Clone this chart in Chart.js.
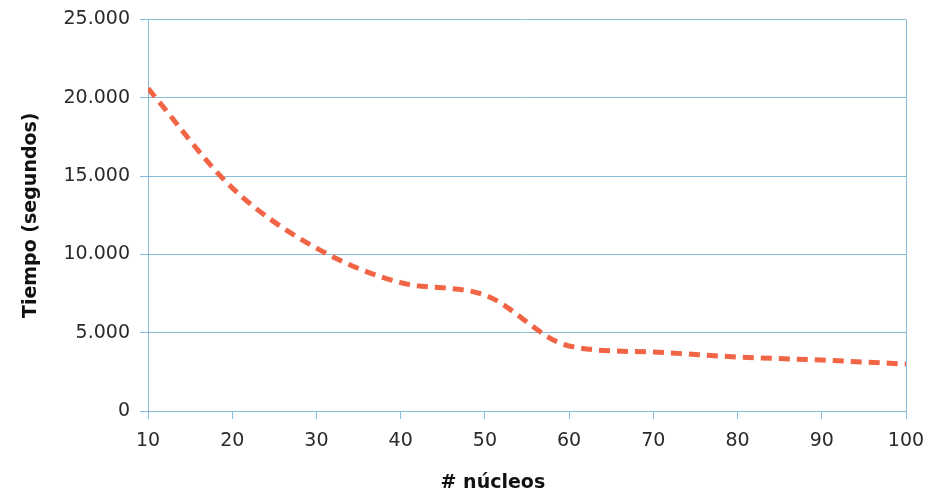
<!DOCTYPE html>
<html>
<head>
<meta charset="utf-8">
<script src="https://cdn.jsdelivr.net/npm/chart.js@4/dist/chart.umd.min.js"></script>
<style>
  html, body { margin: 0; padding: 0; background: #fff; }
  #wrap { width: 939px; height: 492px; }
</style>
</head>
<body>
<div id="wrap"><canvas id="chart"></canvas></div>
<script>
// cores used in each run
const nucleos = [10, 20, 30, 40, 50, 60, 70, 80, 90, 100];
// wall time in seconds
const tiempo = [20600, 14250, 10400, 8200, 7400, 4150, 3760, 3450, 3250, 3000];

const xTitle = '# núcleos';
const yTitle = 'Tiempo (segundos)';

const gridBlue = '#86bcd8';
const lineRed = 'rgb(241, 101, 70)';
const tickFont = { family: '"DejaVu Sans", sans-serif', size: 19, lineHeight: 1 };
const titleFont = { family: '"DejaVu Sans", sans-serif', size: 19, weight: 'bold' };

const fmtMiles = (v) => v.toString().replace(/\B(?=(\d{3})+(?!\d))/g, '.');

// x axis title sits a bit left of the plot centre in the original
const xTitlePlugin = {
  id: 'xTitle',
  afterDraw(chart) {
    const { ctx, chartArea } = chart;
    ctx.save();
    ctx.font = `bold ${titleFont.size}px ${titleFont.family}`;
    ctx.fillStyle = '#111';
    ctx.textAlign = 'center';
    ctx.textBaseline = 'middle';
    ctx.fillText(xTitle, chartArea.left + chartArea.width * 0.455, chart.height - 9);
    ctx.restore();
  },
};

const ctx = document.getElementById('chart').getContext('2d');

new Chart(ctx, {
  type: 'line',
  data: {
    datasets: [{
      data: nucleos.map((n, i) => ({ x: n, y: tiempo[i] })),
      borderColor: lineRed,
      borderWidth: 5,
      borderDash: [11, 7],
      borderCapStyle: 'butt',
      cubicInterpolationMode: 'monotone',
      pointRadius: 0,
      fill: false,
    }],
  },
  options: {
    responsive: true,
    maintainAspectRatio: false,
    animation: false,
    layout: { padding: { top: 19, right: 33, bottom: 0, left: 0 } },
    plugins: {
      legend: { display: false },
      tooltip: { enabled: false },
    },
    scales: {
      x: {
        type: 'linear',
        min: 10,
        max: 100,
        ticks: { stepSize: 10, color: '#2a2a2a', font: tickFont, padding: 13, maxRotation: 0 },
        grid: {
          color: (c) => (c.index === 0 || c.index === nucleos.length - 1 ? gridBlue : 'transparent'),
          tickColor: gridBlue,
          tickLength: 8,
        },
        border: { color: gridBlue },
        afterFit: (scale) => { scale.height = 81; },
      },
      y: {
        min: 0,
        max: 25000,
        ticks: { stepSize: 5000, color: '#2a2a2a', font: tickFont, padding: 10, callback: fmtMiles },
        grid: { color: gridBlue, tickColor: gridBlue, tickLength: 8 },
        border: { color: gridBlue },
        title: { display: true, text: yTitle, color: '#111', font: titleFont, padding: { top: 20, bottom: 0 } },
        afterFit: (scale) => { scale.width = 148; },
      },
    },
  },
  plugins: [xTitlePlugin],
});
</script>
</body>
</html>
